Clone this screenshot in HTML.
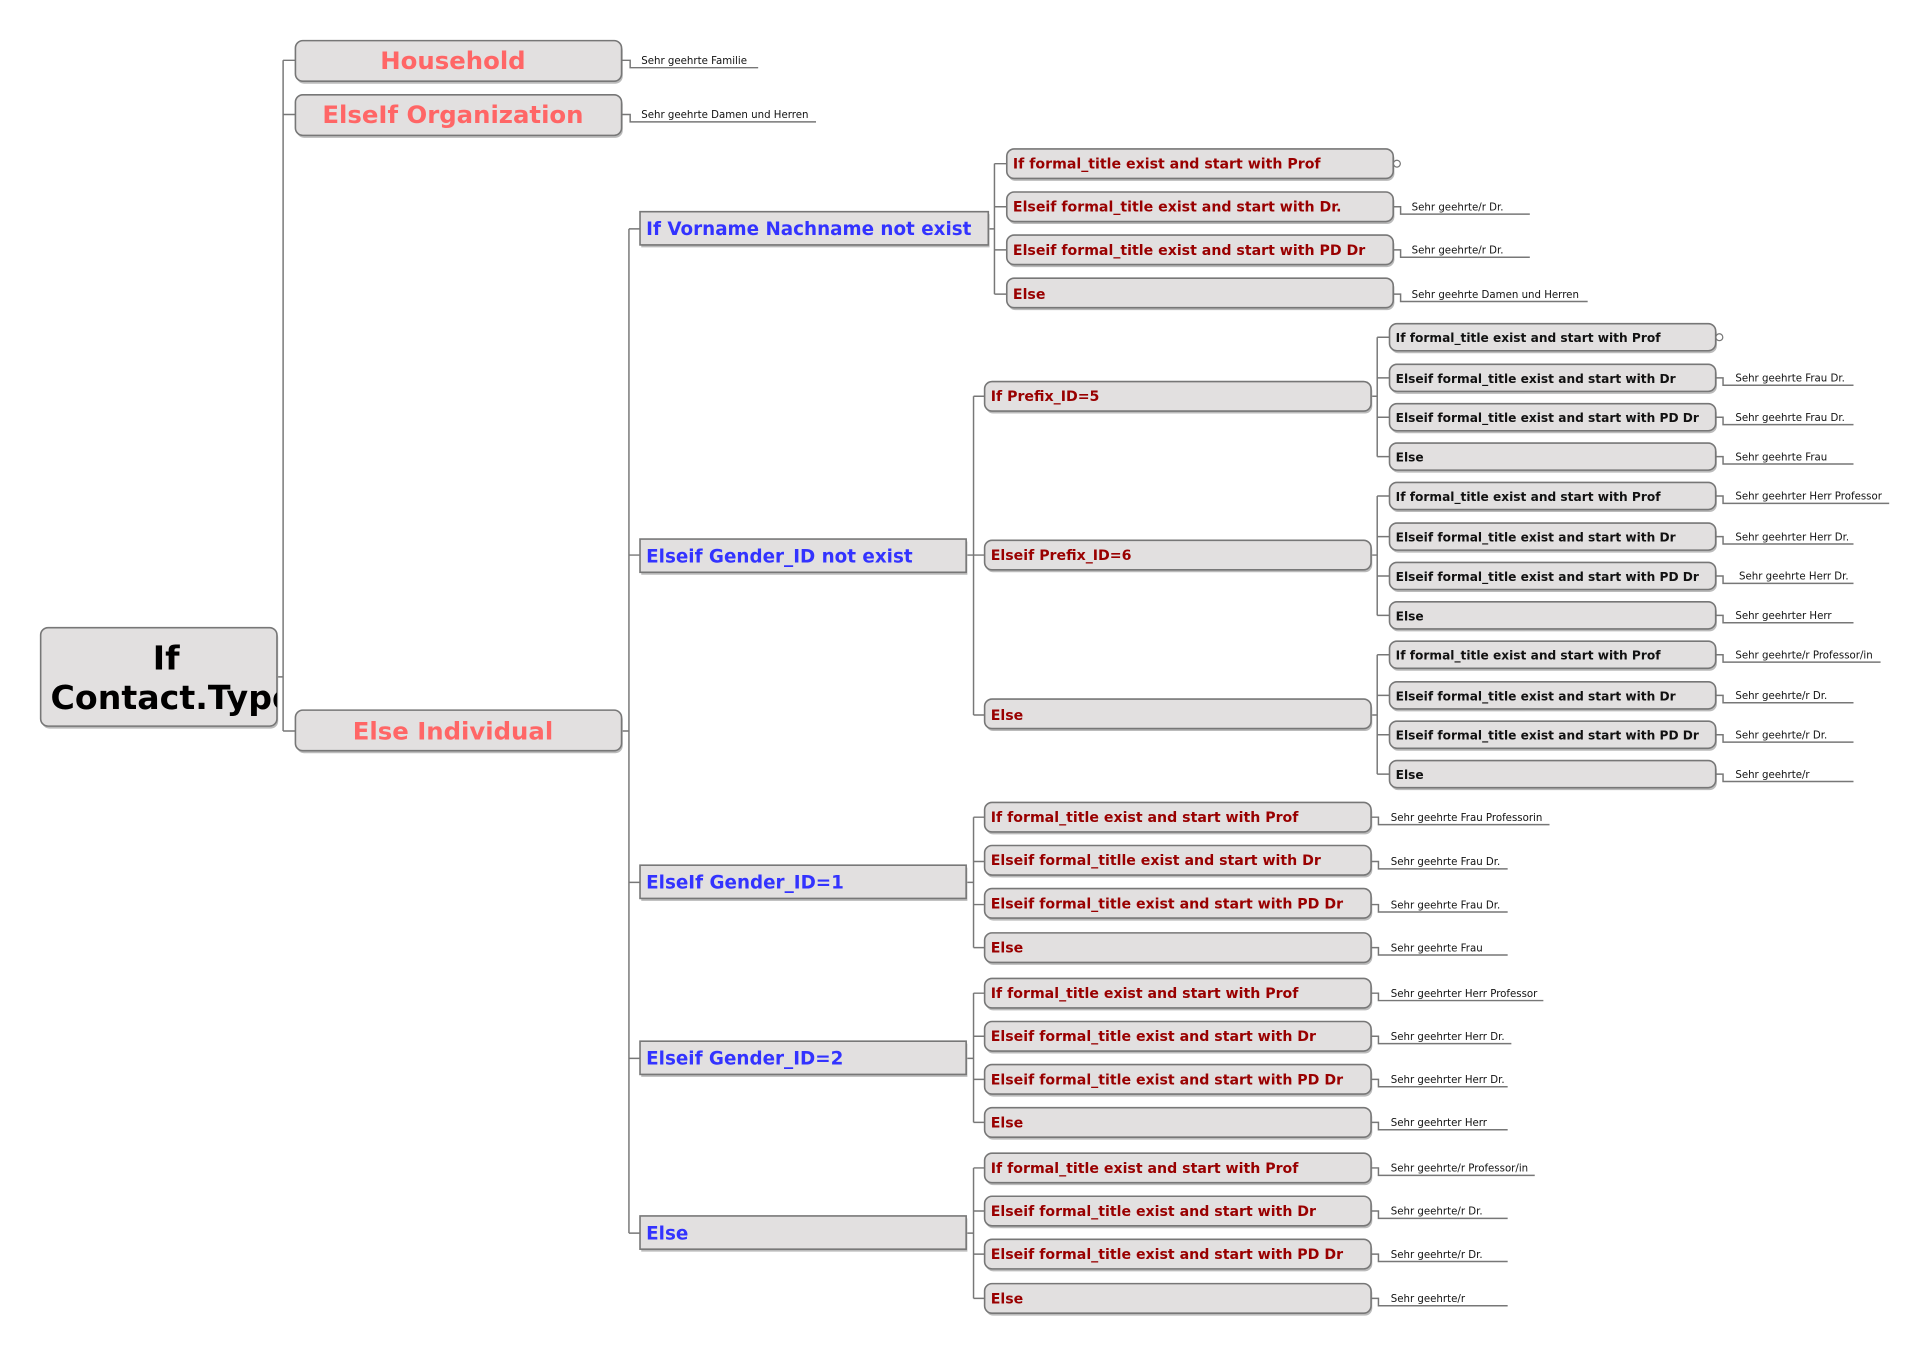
<!DOCTYPE html>
<html><head><meta charset="utf-8"><style>
html,body{margin:0;padding:0;background:#fff;width:1920px;height:1348px;overflow:hidden}
svg{display:block}
text{font-family:"DejaVu Sans","Liberation Sans",sans-serif}
.b{fill:#e2e0e0;stroke:#777;stroke-width:1.3}
.s{fill:#bbb}
.l{fill:none;stroke:#777;stroke-width:1.2}
.n{font-size:8.3px;fill:#111}
.r3{font-size:11.5px;font-weight:bold;fill:#990000}
.k4{font-size:9.9px;font-weight:bold;fill:#111}
.g2{font-size:14.9px;font-weight:bold;fill:#3333ff}
.p1{font-size:19.8px;font-weight:bold;fill:#ff6666}
</style></head><body>
<svg width="1920" height="1348" viewBox="0 0 1560 1095.3" xmlns="http://www.w3.org/2000/svg">
<!-- connectors -->
<path class="l" d="M225 550 H230 M230 49 V594 M230 49 H240 M230 93 H240 M230 594 H240"/>
<path class="l" d="M505 594 H511 M511 186 V1002 M511 186 H520 M511 451 H520 M511 717 H520 M511 860 H520 M511 1002 H520"/>
<path class="l" d="M803 186 H808 M808 133 V239 M808 133 H818 M808 168 H818 M808 203 H818 M808 239 H818"/>
<path class="l" d="M785 451 H791 M791 322 V581 M791 322 H800 M791 451 H800 M791 581 H800"/>
<path class="l" d="M785 717 H791 M791 664 V770 M791 664 H800 M791 700 H800 M791 735 H800 M791 770 H800"/>
<path class="l" d="M785 860 H791 M791 807 V912 M791 807 H800 M791 842 H800 M791 877 H800 M791 912 H800"/>
<path class="l" d="M785 1002 H791 M791 949 V1055 M791 949 H800 M791 984 H800 M791 1019 H800 M791 1055 H800"/>
<path class="l" d="M1114 322 H1119 M1119 274 V371 M1119 274 H1129 M1119 307 H1129 M1119 339 H1129 M1119 371 H1129"/>
<path class="l" d="M1114 451 H1119 M1119 403 V500 M1119 403 H1129 M1119 436 H1129 M1119 468 H1129 M1119 500 H1129"/>
<path class="l" d="M1114 581 H1119 M1119 532 V629 M1119 532 H1129 M1119 565 H1129 M1119 597 H1129 M1119 629 H1129"/>

<!-- root -->
<rect class="s" x="34" y="512" width="192" height="80" rx="6"/>
<rect class="b" x="33" y="510" width="192" height="80" rx="6"/>
<svg x="33" y="510" width="192" height="80" overflow="hidden">
<text x="102" y="34" text-anchor="middle" style="font-size:27px;font-weight:bold;fill:#000">If</text>
<text x="8" y="66" style="font-size:27px;font-weight:bold;fill:#000">Contact.Type</text>
</svg>

<!-- level1 -->
<rect class="s" x="241" y="35" width="265" height="33" rx="6"/><rect class="b" x="240" y="33" width="265" height="33" rx="6"/>
<text class="p1" x="368" y="56" text-anchor="middle">Household</text>
<rect class="s" x="241" y="79" width="265" height="33" rx="6"/><rect class="b" x="240" y="77" width="265" height="33" rx="6"/>
<text class="p1" x="368" y="100" text-anchor="middle">ElseIf Organization</text>
<rect class="s" x="241" y="579" width="265" height="33" rx="6"/><rect class="b" x="240" y="577" width="265" height="33" rx="6"/>
<text class="p1" x="368" y="601" text-anchor="middle">Else Individual</text>
<path class="l" d="M505 49 H512 V55 H616 M505 93 H512 V99 H663"/>
<text class="n" x="521" y="52">Sehr geehrte Familie</text>
<text class="n" x="521" y="96">Sehr geehrte Damen und Herren</text>

<!-- level2 -->
<rect class="s" x="521" y="174" width="283" height="27"/><rect class="b" x="520" y="172" width="283" height="27"/>
<text class="g2" x="525" y="191">If Vorname Nachname not exist</text>
<rect class="s" x="521" y="440" width="265" height="27"/><rect class="b" x="520" y="438" width="265" height="27"/>
<text class="g2" x="525" y="457">Elseif Gender_ID not exist</text>
<rect class="s" x="521" y="705" width="265" height="27"/><rect class="b" x="520" y="703" width="265" height="27"/>
<text class="g2" x="525" y="722">ElseIf Gender_ID=1</text>
<rect class="s" x="521" y="848" width="265" height="27"/><rect class="b" x="520" y="846" width="265" height="27"/>
<text class="g2" x="525" y="865">Elseif Gender_ID=2</text>
<rect class="s" x="521" y="990" width="265" height="27"/><rect class="b" x="520" y="988" width="265" height="27"/>
<text class="g2" x="525" y="1007">Else</text>

<!-- Vorname group -->
<g>
<rect class="s" x="819" y="123" width="314" height="24" rx="6"/><rect class="b" x="818" y="121" width="314" height="24" rx="6"/>
<text class="r3" x="823" y="137">If formal_title exist and start with Prof</text>
<rect class="s" x="819" y="158" width="314" height="24" rx="6"/><rect class="b" x="818" y="156" width="314" height="24" rx="6"/>
<text class="r3" x="823" y="172">Elseif formal_title exist and start with Dr.</text>
<rect class="s" x="819" y="193" width="314" height="24" rx="6"/><rect class="b" x="818" y="191" width="314" height="24" rx="6"/>
<text class="r3" x="823" y="207">Elseif formal_title exist and start with PD Dr</text>
<rect class="s" x="819" y="228" width="314" height="24" rx="6"/><rect class="b" x="818" y="226" width="314" height="24" rx="6"/>
<text class="r3" x="823" y="243">Else</text>
<circle cx="1135" cy="133" r="2.8" fill="#fff" stroke="#777"/>
<path class="l" d="M1132 168 H1138 V174 H1243 M1132 203 H1138 V209 H1243 M1132 239 H1138 V245 H1290"/>
<text class="n" x="1147" y="171">Sehr geehrte/r Dr.</text>
<text class="n" x="1147" y="206">Sehr geehrte/r Dr.</text>
<text class="n" x="1147" y="242">Sehr geehrte Damen und Herren</text>
</g>

<!-- Prefix level -->
<rect class="s" x="801" y="312" width="314" height="24" rx="6"/><rect class="b" x="800" y="310" width="314" height="24" rx="6"/>
<text class="r3" x="805" y="326">If Prefix_ID=5</text>
<rect class="s" x="801" y="441" width="314" height="24" rx="6"/><rect class="b" x="800" y="439" width="314" height="24" rx="6"/>
<text class="r3" x="805" y="455">Elseif Prefix_ID=6</text>
<rect class="s" x="801" y="570" width="314" height="24" rx="6"/><rect class="b" x="800" y="568" width="314" height="24" rx="6"/>
<text class="r3" x="805" y="585">Else</text>

<!-- level4 boxes -->
<g>
<rect class="s" x="1130" y="265" width="265" height="22" rx="6"/><rect class="b" x="1129" y="263" width="265" height="22" rx="6"/><text class="k4" x="1134" y="278">If formal_title exist and start with Prof</text>
<rect class="s" x="1130" y="298" width="265" height="22" rx="6"/><rect class="b" x="1129" y="296" width="265" height="22" rx="6"/><text class="k4" x="1134" y="311">Elseif formal_title exist and start with Dr</text>
<rect class="s" x="1130" y="330" width="265" height="22" rx="6"/><rect class="b" x="1129" y="328" width="265" height="22" rx="6"/><text class="k4" x="1134" y="343">Elseif formal_title exist and start with PD Dr</text>
<rect class="s" x="1130" y="362" width="265" height="22" rx="6"/><rect class="b" x="1129" y="360" width="265" height="22" rx="6"/><text class="k4" x="1134" y="375">Else</text>

<rect class="s" x="1130" y="394" width="265" height="22" rx="6"/><rect class="b" x="1129" y="392" width="265" height="22" rx="6"/><text class="k4" x="1134" y="407">If formal_title exist and start with Prof</text>
<rect class="s" x="1130" y="427" width="265" height="22" rx="6"/><rect class="b" x="1129" y="425" width="265" height="22" rx="6"/><text class="k4" x="1134" y="440">Elseif formal_title exist and start with Dr</text>
<rect class="s" x="1130" y="459" width="265" height="22" rx="6"/><rect class="b" x="1129" y="457" width="265" height="22" rx="6"/><text class="k4" x="1134" y="472">Elseif formal_title exist and start with PD Dr</text>
<rect class="s" x="1130" y="491" width="265" height="22" rx="6"/><rect class="b" x="1129" y="489" width="265" height="22" rx="6"/><text class="k4" x="1134" y="504">Else</text>

<rect class="s" x="1130" y="523" width="265" height="22" rx="6"/><rect class="b" x="1129" y="521" width="265" height="22" rx="6"/><text class="k4" x="1134" y="536">If formal_title exist and start with Prof</text>
<rect class="s" x="1130" y="556" width="265" height="22" rx="6"/><rect class="b" x="1129" y="554" width="265" height="22" rx="6"/><text class="k4" x="1134" y="569">Elseif formal_title exist and start with Dr</text>
<rect class="s" x="1130" y="588" width="265" height="22" rx="6"/><rect class="b" x="1129" y="586" width="265" height="22" rx="6"/><text class="k4" x="1134" y="601">Elseif formal_title exist and start with PD Dr</text>
<rect class="s" x="1130" y="620" width="265" height="22" rx="6"/><rect class="b" x="1129" y="618" width="265" height="22" rx="6"/><text class="k4" x="1134" y="633">Else</text>
</g>
<circle cx="1397" cy="274" r="2.8" fill="#fff" stroke="#777"/>
<path class="l" d="M1394 307 H1400 V313 H1506 M1394 339 H1400 V345 H1506 M1394 371 H1400 V377 H1506
M1394 403 H1400 V409 H1535 M1394 436 H1400 V442 H1506 M1394 468 H1400 V474 H1506 M1394 500 H1400 V506 H1506
M1394 532 H1400 V538 H1528 M1394 565 H1400 V571 H1506 M1394 597 H1400 V603 H1506 M1394 629 H1400 V635 H1506"/>
<text class="n" x="1410" y="310">Sehr geehrte Frau Dr.</text>
<text class="n" x="1410" y="342">Sehr geehrte Frau Dr.</text>
<text class="n" x="1410" y="374">Sehr geehrte Frau</text>
<text class="n" x="1410" y="406">Sehr geehrter Herr Professor</text>
<text class="n" x="1410" y="439">Sehr geehrter Herr Dr.</text>
<text class="n" x="1413" y="471">Sehr geehrte Herr Dr.</text>
<text class="n" x="1410" y="503">Sehr geehrter Herr</text>
<text class="n" x="1410" y="535">Sehr geehrte/r Professor/in</text>
<text class="n" x="1410" y="568">Sehr geehrte/r Dr.</text>
<text class="n" x="1410" y="600">Sehr geehrte/r Dr.</text>
<text class="n" x="1410" y="632">Sehr geehrte/r</text>

<!-- Gender groups -->
<g>
<rect class="s" x="801" y="654" width="314" height="24" rx="6"/><rect class="b" x="800" y="652" width="314" height="24" rx="6"/><text class="r3" x="805" y="668">If formal_title exist and start with Prof</text>
<rect class="s" x="801" y="689" width="314" height="24" rx="6"/><rect class="b" x="800" y="687" width="314" height="24" rx="6"/><text class="r3" x="805" y="703">Elseif formal_titlle exist and start with Dr</text>
<rect class="s" x="801" y="724" width="314" height="24" rx="6"/><rect class="b" x="800" y="722" width="314" height="24" rx="6"/><text class="r3" x="805" y="738">Elseif formal_title exist and start with PD Dr</text>
<rect class="s" x="801" y="760" width="314" height="24" rx="6"/><rect class="b" x="800" y="758" width="314" height="24" rx="6"/><text class="r3" x="805" y="774">Else</text>

<rect class="s" x="801" y="797" width="314" height="24" rx="6"/><rect class="b" x="800" y="795" width="314" height="24" rx="6"/><text class="r3" x="805" y="811">If formal_title exist and start with Prof</text>
<rect class="s" x="801" y="832" width="314" height="24" rx="6"/><rect class="b" x="800" y="830" width="314" height="24" rx="6"/><text class="r3" x="805" y="846">Elseif formal_title exist and start with Dr</text>
<rect class="s" x="801" y="867" width="314" height="24" rx="6"/><rect class="b" x="800" y="865" width="314" height="24" rx="6"/><text class="r3" x="805" y="881">Elseif formal_title exist and start with PD Dr</text>
<rect class="s" x="801" y="902" width="314" height="24" rx="6"/><rect class="b" x="800" y="900" width="314" height="24" rx="6"/><text class="r3" x="805" y="916">Else</text>

<rect class="s" x="801" y="939" width="314" height="24" rx="6"/><rect class="b" x="800" y="937" width="314" height="24" rx="6"/><text class="r3" x="805" y="953">If formal_title exist and start with Prof</text>
<rect class="s" x="801" y="974" width="314" height="24" rx="6"/><rect class="b" x="800" y="972" width="314" height="24" rx="6"/><text class="r3" x="805" y="988">Elseif formal_title exist and start with Dr</text>
<rect class="s" x="801" y="1009" width="314" height="24" rx="6"/><rect class="b" x="800" y="1007" width="314" height="24" rx="6"/><text class="r3" x="805" y="1023">Elseif formal_title exist and start with PD Dr</text>
<rect class="s" x="801" y="1045" width="314" height="24" rx="6"/><rect class="b" x="800" y="1043" width="314" height="24" rx="6"/><text class="r3" x="805" y="1059">Else</text>
</g>
<path class="l" d="M1114 664 H1120 V670 H1259 M1114 700 H1120 V706 H1225 M1114 735 H1120 V741 H1225 M1114 770 H1120 V776 H1225
M1114 807 H1120 V813 H1254 M1114 842 H1120 V848 H1228 M1114 877 H1120 V883 H1225 M1114 912 H1120 V918 H1225
M1114 949 H1120 V955 H1247 M1114 984 H1120 V990 H1225 M1114 1019 H1120 V1025 H1225 M1114 1055 H1120 V1061 H1225"/>
<text class="n" x="1130" y="667">Sehr geehrte Frau Professorin</text>
<text class="n" x="1130" y="703">Sehr geehrte Frau Dr.</text>
<text class="n" x="1130" y="738">Sehr geehrte Frau Dr.</text>
<text class="n" x="1130" y="773">Sehr geehrte Frau</text>
<text class="n" x="1130" y="810">Sehr geehrter Herr Professor</text>
<text class="n" x="1130" y="845">Sehr geehrter Herr Dr.</text>
<text class="n" x="1130" y="880">Sehr geehrter Herr Dr.</text>
<text class="n" x="1130" y="915">Sehr geehrter Herr</text>
<text class="n" x="1130" y="952">Sehr geehrte/r Professor/in</text>
<text class="n" x="1130" y="987">Sehr geehrte/r Dr.</text>
<text class="n" x="1130" y="1022">Sehr geehrte/r Dr.</text>
<text class="n" x="1130" y="1058">Sehr geehrte/r</text>
</svg>
</body></html>
